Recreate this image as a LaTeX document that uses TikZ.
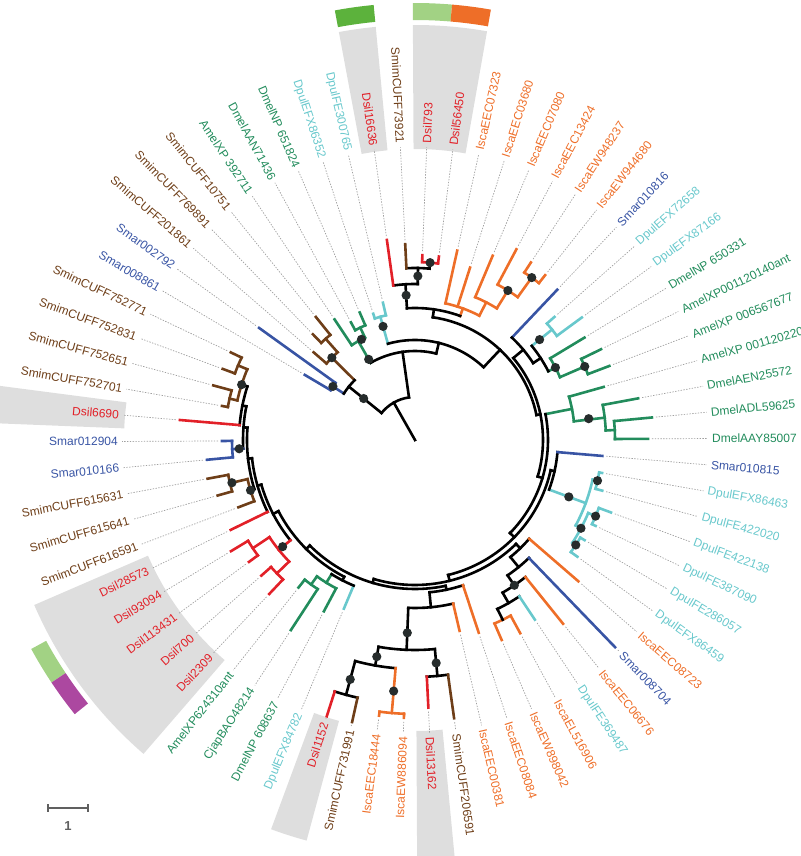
\documentclass[tikz,border=0pt]{standalone}
\usepackage{fontspec}
\setmainfont{Liberation Sans}
\usetikzlibrary{positioning}
\definecolor{dsilred}{RGB}{226,32,40}
\definecolor{smimbrown}{RGB}{110,62,24}
\definecolor{smarblue}{RGB}{56,84,164}
\definecolor{dpulcyan}{RGB}{104,200,204}
\definecolor{insgreen}{RGB}{34,140,92}
\definecolor{iscaorange}{RGB}{238,110,40}
\definecolor{bootdot}{RGB}{38,44,44}
\definecolor{hlgray}{RGB}{222,222,222}
\definecolor{leadgray}{RGB}{160,160,160}
\definecolor{barg}{RGB}{92,178,60}
\definecolor{barlg}{RGB}{162,210,132}
\definecolor{baro}{RGB}{238,110,40}
\definecolor{barm}{RGB}{172,72,160}
\definecolor{scalegray}{RGB}{96,96,96}
% 树枝: 径向线段 / 圆弧 / 支持度圆点
\newcommand{\brch}[4]{\draw[tree,#1] (#2:#3) -- (#2:#4);}
\newcommand{\barc}[4]{\draw[tree,#1] (#3:#2) arc[start angle=#3,end angle=#4,radius=#2];}
\newcommand{\bdot}[2]{\fill[bootdot] (#1:#2) circle[radius=4.6];}
\newcommand{\hlsec}[5]{\fill[#1] (#2:#4) arc[start angle=#2,end angle=#3,radius=#4] -- (#3:#5) arc[start angle=#3,end angle=#2,radius=#5] -- cycle;}
\begin{document}
\begin{tikzpicture}[x=1pt, y=1pt,
  tree/.style={line width=2.6pt, line cap=rect},
  lbl/.style={font=\fontsize{12}{14}\selectfont, inner sep=0pt},
  leader/.style={draw=leadgray, line width=0.7pt, dash pattern=on 1.4pt off 1.4pt}]
\useasboundingbox (-415,-416) rectangle (385,440);

% 灰色高亮扇区
\hlsec{hlgray}{95.43}{100.57}{291}{415}
\hlsec{hlgray}{80}{90.29}{291}{415}
\hlsec{hlgray}{172.57}{177.71}{291}{430}
\hlsec{hlgray}{203.43}{229.14}{291}{415}
\hlsec{hlgray}{249.71}{254.86}{291}{415}
\hlsec{hlgray}{270.29}{275.43}{291}{430}
% 外圈色块
\hlsec{barg}{95.43}{100.57}{420}{437}
\hlsec{barlg}{85.14}{90.29}{420}{437}
\hlsec{baro}{80}{85.14}{420}{437}
\hlsec{barlg}{208.57}{213.71}{420}{437}
\hlsec{barm}{213.71}{218.86}{420}{437}

% 叶标签与引线
\foreach \k/\nm/\cl/\rt in {1/Dsil16636/dsilred/202, 2/DpulFE300765/dpulcyan/141, 3/DpulEFX86352/dpulcyan/133,
  4/DmelNP 651824/insgreen/139, 5/DmelAAN71436/insgreen/134, 6/AmelXP 392711/insgreen/145,
  7/SmimCUFF10751/smimbrown/158, 8/SmimCUFF769891/smimbrown/147, 9/SmimCUFF201861/smimbrown/134,
  10/Smar002792/smarblue/192, 11/Smar008861/smarblue/128, 12/SmimCUFF752771/smimbrown/204,
  13/SmimCUFF752831/smimbrown/205, 14/SmimCUFF752651/smimbrown/209, 15/SmimCUFF752701/smimbrown/196,
  16/Dsil6690/dsilred/236, 17/Smar012904/smarblue/193, 18/Smar010166/smarblue/209,
  19/SmimCUFF615631/smimbrown/211, 20/SmimCUFF615641/smimbrown/205, 21/SmimCUFF616591/smimbrown/189,
  22/Dsil28573/dsilred/205, 23/Dsil93094/dsilred/215, 24/Dsil113431/dsilred/206, 25/Dsil700/dsilred/205,
  26/Dsil2309/dsilred/212, 27/AmelXP624310ant/insgreen/188, 28/CjapBAO48214/insgreen/227,
  29/DmelNP 608637/insgreen/194, 30/DpulEFX84782/dpulcyan/183, 31/Dsil1152/dsilred/290,
  32/SmimCUFF731991/smimbrown/289, 33/IscaEEC18444/iscaorange/278, 34/IscaEW886094/iscaorange/278,
  35/Dsil13162/dsilred/268, 36/SmimCUFF206591/smimbrown/281, 37/IscaEEC00381/iscaorange/196,
  38/IscaEEC08084/iscaorange/203, 39/IscaEW898042/iscaorange/218, 40/IscaEL516906/iscaorange/220,
  41/DpulFE369487/dpulcyan/216, 42/IscaEEC06676/iscaorange/236, 43/Smar008704/smarblue/288,
  44/IscaEEC08723/iscaorange/216, 45/DpulEFX86459/dpulcyan/200, 46/DpulFE286057/dpulcyan/197,
  47/DpulFE387090/dpulcyan/200, 48/DpulFE422138/dpulcyan/209, 49/DpulFE422020/dpulcyan/194,
  50/DpulEFX86463/dpulcyan/190, 51/Smar010815/smarblue/188, 52/DmelAAY85007/insgreen/233,
  53/DmelADL59625/insgreen/238, 54/DmelAEN25572/insgreen/227, 55/AmelXP 001120220/insgreen/196,
  56/AmelXP 006567677/insgreen/208, 57/AmelXP001120140ant/insgreen/207, 58/DmelNP 650331/insgreen/198,
  59/DpulEFX87166/dpulcyan/207, 60/DpulEFX72658/dpulcyan/186, 61/Smar010816/smarblue/207,
  62/IscaEW944680/iscaorange/210, 63/IscaEW948237/iscaorange/212, 64/IscaEEC13424/iscaorange/216,
  65/IscaEEC07080/iscaorange/200, 66/IscaEEC03680/iscaorange/181, 67/IscaEEC07323/iscaorange/194,
  68/Dsil56450/dsilred/185, 69/Dsil793/dsilred/185, 70/SmimCUFF73921/smimbrown/196} {
  \pgfmathsetmacro{\ang}{98+(\k-1)*(360/70)}
  \pgfmathsetmacro{\rs}{min(\rt+4,292)}
  \pgfmathtruncatemacro{\lft}{cos(\ang)<0}
  \coordinate (t\k) at (\ang:\rs);
  \coordinate (e\k) at (\ang:293);
  \draw[leader] (t\k) -- (e\k);
  \ifnum\lft=1
    \node[lbl, text=\cl, rotate=\ang-180, anchor=east] (l\k) at (\ang:297) {\nm};
  \else
    \node[lbl, text=\cl, rotate=\ang, anchor=west] (l\k) at (\ang:297) {\nm};
  \fi
}

% 顶部 (68-70, 1)
\barc{dsilred}{178}{82.57}{87.71}
\brch{dsilred}{82.57}{178}{185}
\brch{dsilred}{87.71}{178}{185}
\barc{black}{172}{85.14}{92.86}
\brch{smimbrown}{92.86}{172}{196}
\brch{black}{85.14}{172}{178}
\barc{black}{156}{89}{98}
\brch{dsilred}{98}{156}{202}
\brch{black}{89}{156}{172}
\brch{black}{93.5}{132}{156}
% 橙色 (62-67)
\barc{iscaorange}{200}{51.71}{56.86}
\brch{iscaorange}{51.71}{200}{210}
\brch{iscaorange}{56.86}{200}{212}
\barc{iscaorange}{176}{54.29}{62}
\brch{iscaorange}{62}{176}{216}
\brch{iscaorange}{54.29}{176}{200}
\barc{iscaorange}{155}{58.14}{67.14}
\brch{iscaorange}{67.14}{155}{200}
\brch{iscaorange}{58.14}{155}{176}
\barc{iscaorange}{140}{62.64}{77.43}
\brch{iscaorange}{77.43}{140}{194}
\brch{iscaorange}{72.29}{140}{181}
\brch{iscaorange}{62.64}{140}{155}
\brch{iscaorange}{70}{132}{140}
\barc{black}{132}{70}{93.5}
% 右上 (56-61)
\barc{insgreen}{185}{20.86}{26}
\brch{insgreen}{20.86}{185}{208}
\brch{insgreen}{26}{185}{207}
\barc{insgreen}{158}{23.43}{31.14}
\brch{insgreen}{31.14}{158}{198}
\brch{insgreen}{23.43}{158}{185}
\brch{insgreen}{27.29}{150}{158}
\barc{dpulcyan}{176}{36.29}{41.43}
\brch{dpulcyan}{36.29}{176}{207}
\brch{dpulcyan}{41.43}{176}{186}
\brch{dpulcyan}{38.86}{150}{176}
\barc{black}{150}{27.29}{38.86}
\brch{black}{33.07}{141}{150}
\brch{smarblue}{46.57}{141}{207}
\barc{black}{141}{33.07}{46.57}
\brch{black}{39.82}{128}{141}
% 右侧 (52-55)
\barc{insgreen}{200}{0.29}{5.43}
\brch{insgreen}{0.29}{200}{233}
\brch{insgreen}{5.43}{200}{238}
\barc{insgreen}{191}{2.86}{10.57}
\brch{insgreen}{10.57}{191}{227}
\brch{insgreen}{2.86}{191}{200}
\barc{insgreen}{160}{6.71}{15.71}
\brch{insgreen}{15.71}{160}{196}
\brch{insgreen}{6.71}{160}{191}
\brch{insgreen}{11.21}{133}{160}
% 右下 (45-51)
\barc{dpulcyan}{187}{344.86}{350}
\brch{dpulcyan}{344.86}{187}{194}
\brch{dpulcyan}{350}{187}{190}
\barc{dpulcyan}{196}{334.57}{339.71}
\brch{dpulcyan}{339.71}{196}{209}
\brch{dpulcyan}{334.57}{196}{200}
\barc{dpulcyan}{192}{324.29}{329.43}
\brch{dpulcyan}{324.29}{192}{200}
\brch{dpulcyan}{329.43}{192}{197}
\barc{dpulcyan}{188}{326.86}{337.14}
\brch{dpulcyan}{326.86}{188}{192}
\brch{dpulcyan}{337.14}{188}{196}
\barc{dpulcyan}{182}{332}{347.43}
\brch{dpulcyan}{332}{182}{188}
\brch{dpulcyan}{347.43}{182}{187}
\brch{dpulcyan}{339.71}{143}{182}
\barc{black}{143}{339.71}{355.14}
\brch{smarblue}{355.14}{143}{188}
\brch{black}{347.43}{139}{143}
% 下右 (39-44)
\barc{iscaorange}{200}{293.43}{298.57}
\brch{iscaorange}{293.43}{200}{218}
\brch{iscaorange}{298.57}{200}{220}
\barc{black}{188}{296}{303.71}
\brch{black}{296}{188}{200}
\brch{dpulcyan}{303.71}{188}{216}
\barc{black}{176}{299.86}{308.86}
\brch{black}{299.86}{176}{188}
\brch{iscaorange}{308.86}{176}{236}
\barc{black}{164}{304.36}{314}
\brch{black}{304.36}{164}{176}
\brch{smarblue}{314}{164}{288}
\barc{black}{151}{309.18}{319.14}
\brch{black}{309.18}{151}{164}
\brch{iscaorange}{319.14}{151}{216}
\brch{black}{314.16}{145}{151}
% 底部 (31-38)
\barc{black}{264}{252.29}{257.43}
\brch{dsilred}{252.29}{264}{290}
\brch{smimbrown}{257.43}{264}{289}
\barc{iscaorange}{274}{262.57}{267.71}
\brch{iscaorange}{262.57}{274}{278}
\brch{iscaorange}{267.71}{274}{278}
\barc{black}{229}{254.86}{265.14}
\brch{black}{254.86}{229}{264}
\brch{iscaorange}{265.14}{229}{274}
\barc{black}{237}{272.86}{278}
\brch{dsilred}{272.86}{237}{268}
\brch{smimbrown}{278}{237}{281}
\barc{black}{210}{260}{275.43}
\brch{black}{260}{210}{229}
\brch{black}{275.43}{210}{237}
\barc{black}{168}{267.71}{283.14}
\brch{black}{267.71}{168}{210}
\brch{iscaorange}{283.14}{168}{196}
\barc{black}{153}{275.43}{288.29}
\brch{black}{275.43}{153}{168}
\brch{iscaorange}{288.29}{153}{203}
\brch{black}{281.86}{149}{153}
% 左下 (27-30)
\barc{insgreen}{178}{231.71}{236.86}
\brch{insgreen}{231.71}{178}{188}
\brch{insgreen}{236.86}{178}{227}
\barc{insgreen}{168}{234.29}{242}
\brch{insgreen}{242}{168}{194}
\brch{insgreen}{234.29}{168}{178}
\brch{insgreen}{238.14}{158}{168}
\brch{dpulcyan}{247.14}{158}{183}
\barc{black}{158}{238.14}{247.14}
\brch{black}{242.64}{154}{158}
% 左侧 (12-26)
\barc{smimbrown}{192}{154.57}{159.71}
\brch{smimbrown}{154.57}{192}{204}
\brch{smimbrown}{159.71}{192}{205}
\barc{smimbrown}{190}{164.86}{170}
\brch{smimbrown}{164.86}{190}{209}
\brch{smimbrown}{170}{190}{196}
\barc{smimbrown}{182}{157.14}{167.43}
\brch{smimbrown}{157.14}{182}{192}
\brch{smimbrown}{167.43}{182}{190}
\barc{smarblue}{183}{180.29}{185.43}
\brch{smarblue}{180.29}{183}{193}
\brch{smarblue}{185.43}{183}{209}
\barc{smimbrown}{190}{190.57}{195.71}
\brch{smimbrown}{190.57}{190}{211}
\brch{smimbrown}{195.71}{190}{205}
\barc{smimbrown}{172}{193.14}{200.86}
\brch{smimbrown}{193.14}{172}{190}
\brch{smimbrown}{200.86}{172}{189}
\barc{dsilred}{195}{211.14}{216.29}
\brch{dsilred}{211.14}{195}{215}
\brch{dsilred}{216.29}{195}{206}
\barc{dsilred}{192}{221.43}{226.57}
\brch{dsilred}{221.43}{192}{205}
\brch{dsilred}{226.57}{192}{212}
\barc{dsilred}{175}{213.71}{224}
\brch{dsilred}{213.71}{175}{195}
\brch{dsilred}{224}{175}{192}
% 主干环
\barc{black}{176}{162.29}{175.14}
\brch{black}{162.29}{176}{182}
\brch{dsilred}{175.14}{176}{236}
\barc{black}{172}{168.71}{182.86}
\brch{black}{168.71}{172}{176}
\brch{smarblue}{182.86}{172}{183}
\barc{black}{168}{175.79}{197}
\brch{black}{175.79}{168}{172}
\brch{black}{197}{168}{172}
\barc{black}{164}{186.39}{206}
\brch{black}{186.39}{164}{168}
\brch{dsilred}{206}{164}{205}
\barc{black}{160}{196.2}{218.86}
\brch{black}{196.2}{160}{164}
\brch{dsilred}{218.86}{160}{175}
\barc{black}{154}{207.53}{242.64}
\brch{black}{207.53}{154}{160}
\barc{black}{149}{225.09}{281.86}
\brch{black}{225.09}{149}{154}
\barc{black}{145}{253.47}{314.16}
\brch{black}{253.47}{145}{149}
\barc{black}{139}{283.82}{347.43}
\brch{black}{283.82}{139}{145}
\barc{black}{133}{315.62}{371.21}
\brch{black}{315.62}{133}{139}
\barc{black}{128}{343.42}{399.82}
\brch{black}{343.42}{128}{133}
\barc{black}{124}{11.62}{81.75}
\brch{black}{11.62}{124}{128}
\brch{black}{81.75}{124}{132}
\brch{black}{46.69}{100}{124}
% 左上 (2-11)
\barc{dpulcyan}{128}{103.14}{108.29}
\brch{dpulcyan}{103.14}{128}{141}
\brch{dpulcyan}{108.29}{128}{133}
\brch{dpulcyan}{105.71}{100}{128}
\barc{insgreen}{125}{113.43}{118.57}
\brch{insgreen}{113.43}{125}{139}
\brch{insgreen}{118.57}{125}{134}
\barc{insgreen}{114}{116}{123.71}
\brch{insgreen}{116}{114}{125}
\brch{insgreen}{123.71}{114}{145}
\brch{insgreen}{119.86}{89}{114}
\barc{smimbrown}{135}{128.86}{134}
\brch{smimbrown}{128.86}{135}{158}
\brch{smimbrown}{134}{135}{147}
\barc{smimbrown}{117}{131.43}{139.14}
\brch{smimbrown}{131.43}{117}{135}
\brch{smimbrown}{139.14}{117}{134}
\brch{smimbrown}{135.29}{85}{117}
\barc{smarblue}{98}{144.29}{149.43}
\brch{smarblue}{144.29}{98}{192}
\brch{smarblue}{149.43}{98}{128}
\brch{smarblue}{146.86}{85}{98}
\barc{black}{85}{135.29}{146.86}
\brch{black}{141.07}{43}{85}
% 根
\barc{black}{100}{46.69}{105.71}
\brch{black}{76.2}{89}{100}
\barc{black}{89}{76.2}{119.86}
\brch{black}{98.03}{43}{89}
\barc{black}{43}{98.03}{141.07}
\coordinate (root) at (0,0);
\coordinate (rootnode) at (119.55:43);
\draw[tree] (root) -- (rootnode);

% 支持度圆点
\foreach \a/\r in {85.14/178, 89/164, 93.5/145, 54.29/200, 58.14/176, 23.43/185, 27.29/158,
  38.86/160, 7/175, 347.43/187, 337.14/196, 326.86/192, 332/188, 339.71/164, 304.36/176,
  254.86/248, 265.14/252, 260/220, 275.43/224, 267.71/193, 162.29/182, 182.86/176,
  193.14/188, 197/172, 218.86/170, 141.07/66, 135.29/117, 146.86/98, 105.71/118,
  118/114, 119.86/93}
  \bdot{\a}{\r};

% 比例尺
\coordinate (sbA) at (-367,-368);
\coordinate (sbB) at (-327,-368);
\draw[scalegray, line width=1.2pt] (sbA) -- (sbB);
\draw[scalegray, line width=1.2pt] ([yshift=4]sbA) -- ([yshift=-4]sbA);
\draw[scalegray, line width=1.2pt] ([yshift=4]sbB) -- ([yshift=-4]sbB);
\node[font=\bfseries\fontsize{13}{15}\selectfont, text=scalegray, below=10pt of sbA, xshift=20pt] (scl) {1};
\end{tikzpicture}
\end{document}
